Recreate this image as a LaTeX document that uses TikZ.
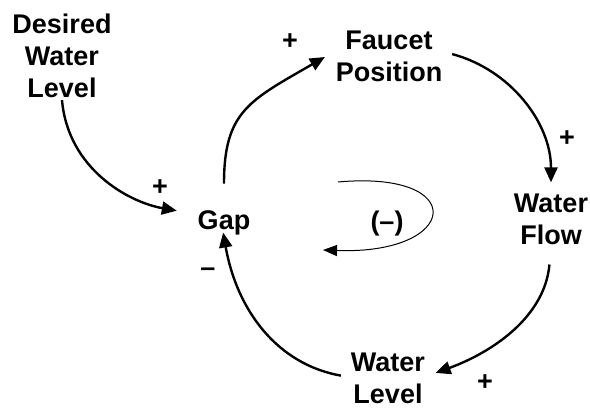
\documentclass[tikz,border=0pt]{standalone}
\usepackage{fontspec}
\setmainfont{Liberation Sans}
\usetikzlibrary{arrows.meta}

\begin{document}
\begin{tikzpicture}[x=1pt, y=1pt,
    var/.style={font=\fontsize{27}{32}\selectfont\bfseries, align=center, inner sep=2pt},
    sign/.style={font=\fontsize{27}{32}\selectfont\bfseries, inner sep=0pt},
    link/.style={line width=2.4pt, -{Triangle[length=15pt, width=13pt]}},
    turn/.style={line width=1pt, -{Triangle[length=14pt, width=11pt]}}]
    \useasboundingbox (0,0) rectangle (590,410);
    % variables
    \node[var] (desired) at (62,354) {Desired\\Water\\Level};
    \node[var] (faucet) at (389,354) {Faucet\\Position};
    \node[var] (gap) at (224,187) {Gap};
    \node[var] (flow) at (551,191) {Water\\Flow};
    \node[var] (level) at (388,32) {Water\\Level};
    \node[sign] (polarity) at (387,186) {(--)};
    % links
    \draw[link, shorten >=19pt] (desired.south) to[out=-85, in=170] ([yshift=9pt]gap.west);
    \draw[link, shorten <=25pt, shorten >=10pt] (gap.north) to[out=90, in=210, looseness=1.3] ([yshift=4pt]faucet.west);
    \draw[link, shorten <=8pt, shorten >=9pt] ([yshift=4pt]faucet.east) to[out=-15, in=90] (flow.north);
    \draw[link, shorten <=18pt, shorten >=9pt] (flow.south) to[out=-95, in=20] ([yshift=2pt]level.east);
    \draw[link, shorten <=8pt, shorten >=-5pt] ([yshift=1pt]level.west) to[out=170, in=-80] (gap.south);
    % polarities
    \node[sign] (s1) at (160,222) {+};
    \node[sign] (s2) at (290,368) {+};
    \node[sign] (s3) at (567,271) {+};
    \node[sign] (s4) at (485,27) {+};
    \node[sign] (s5) at (208,138) {--};
    % loop
    \coordinate (loopa) at (338,228);
    \coordinate (loopb) at (323,160);
    \draw[turn] (loopa) .. controls (470,240) and (460,155) .. (loopb);
\end{tikzpicture}
\end{document}
